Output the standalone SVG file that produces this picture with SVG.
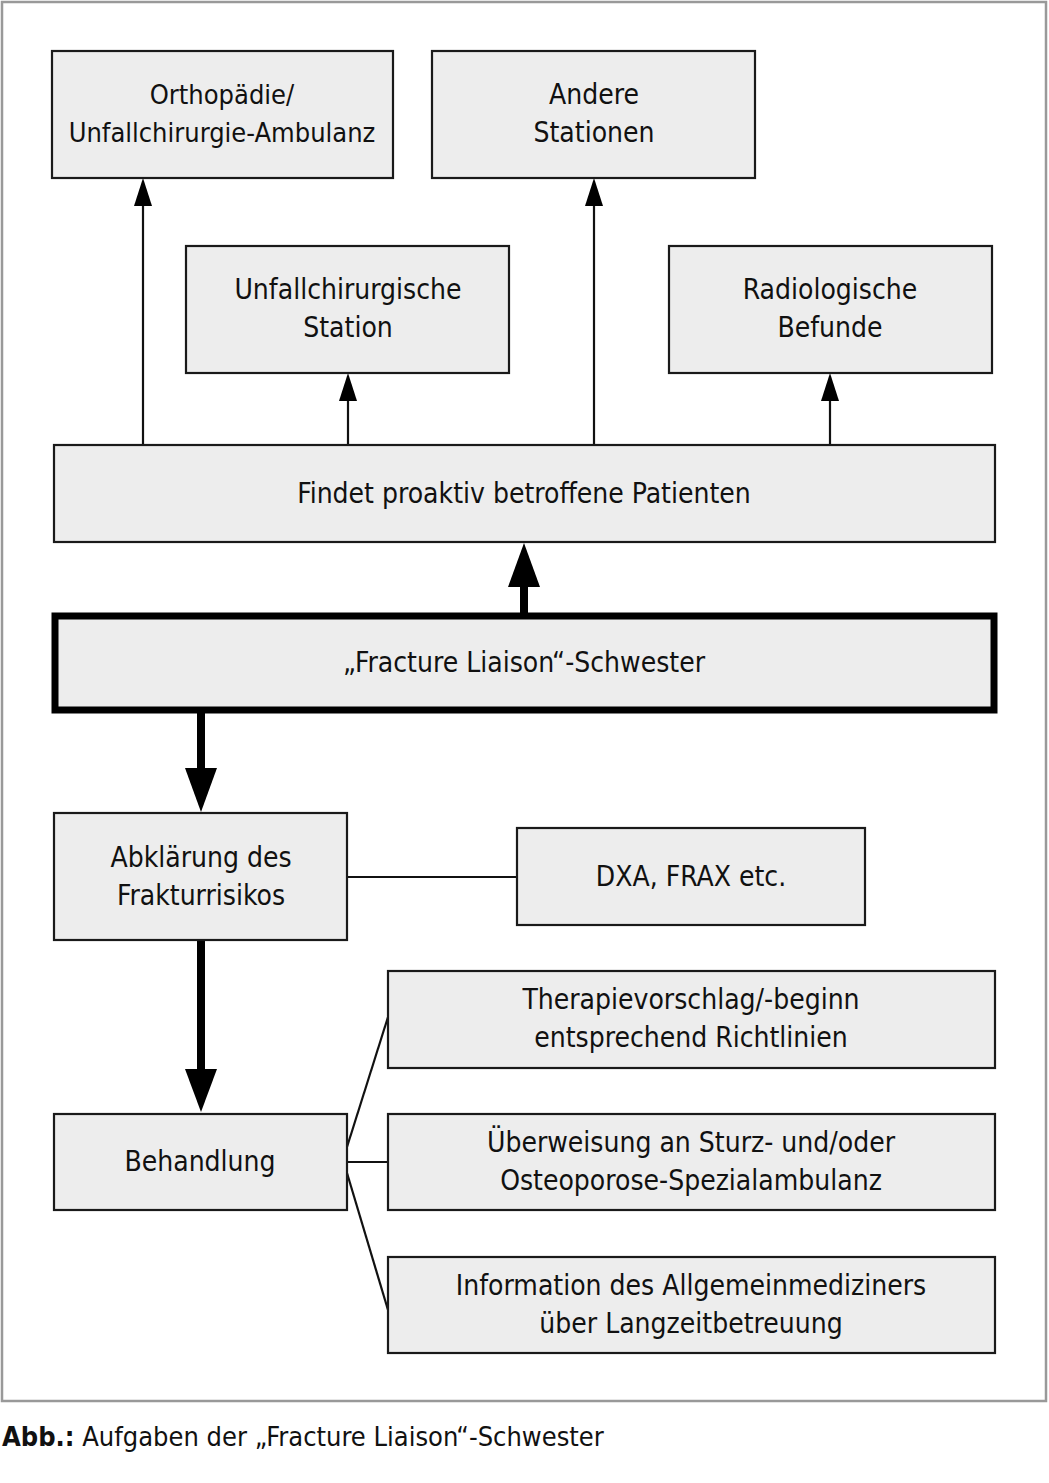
<svg xmlns="http://www.w3.org/2000/svg" width="1049" height="1483" viewBox="0 0 1049 1483">
<style>
.box{fill:#ededed;stroke:#1a1a1a;stroke-width:2.2}
.thick{fill:#ededed;stroke:#000;stroke-width:7}
.t{font-family:"DejaVu Sans Condensed","Liberation Sans Narrow",sans-serif;font-size:28px;fill:#111;text-anchor:middle}
.t27{font-size:27px}
.ln{stroke:#111;stroke-width:2.2;fill:none}
.tk{stroke:#000;stroke-width:8;fill:none}
.ah{fill:#000}
.cap{font-family:"DejaVu Sans Condensed","Liberation Sans Narrow",sans-serif;font-size:27px;fill:#111}
</style>
<rect width="1049" height="1483" fill="#fff"/>
<rect x="2" y="2" width="1044" height="1399" fill="none" stroke="#999" stroke-width="2.5"/>
<g id="connectors">
<line class="ln" x1="143" y1="445" x2="143" y2="200"/>
<polygon class="ah" points="143,178 134,206 152,206"/>
<line class="ln" x1="348" y1="445" x2="348" y2="395"/>
<polygon class="ah" points="348,373 339,401 357,401"/>
<line class="ln" x1="594" y1="445" x2="594" y2="200"/>
<polygon class="ah" points="594,178 585,206 603,206"/>
<line class="ln" x1="830" y1="445" x2="830" y2="395"/>
<polygon class="ah" points="830,373 821,401 839,401"/>
<line class="tk" x1="524" y1="613" x2="524" y2="580"/>
<polygon class="ah" points="524,543 508,587 540,587"/>
<line class="tk" x1="201" y1="713" x2="201" y2="775"/>
<polygon class="ah" points="201,812 185,768 217,768"/>
<line class="tk" x1="201" y1="940" x2="201" y2="1075"/>
<polygon class="ah" points="201,1112 185,1069 217,1069"/>
<line class="ln" x1="347" y1="877" x2="517" y2="877"/>
<line class="ln" x1="347" y1="1147" x2="388" y2="1017"/>
<line class="ln" x1="347" y1="1162" x2="388" y2="1162"/>
<line class="ln" x1="347" y1="1173" x2="388" y2="1310"/>
</g>
<g id="n1"><rect class="box" x="52" y="51" width="341" height="127"/><text class="t t27" x="222" y="104">Orthopädie/</text><text class="t t27" x="222" y="142">Unfallchirurgie-Ambulanz</text></g>
<g id="n2"><rect class="box" x="432" y="51" width="323" height="127"/><text class="t" x="594" y="104">Andere</text><text class="t" x="594" y="142">Stationen</text></g>
<g id="n3"><rect class="box" x="186" y="246" width="323" height="127"/><text class="t" x="348" y="299">Unfallchirurgische</text><text class="t" x="348" y="337">Station</text></g>
<g id="n4"><rect class="box" x="669" y="246" width="323" height="127"/><text class="t" x="830" y="299">Radiologische</text><text class="t" x="830" y="337">Befunde</text></g>
<g id="n5"><rect class="box" x="54" y="445" width="941" height="97"/><text class="t" x="524" y="503">Findet proaktiv betroffene Patienten</text></g>
<g id="n6"><rect class="thick" x="55" y="616" width="939" height="94"/><text class="t" x="524" y="672">„Fracture Liaison“-Schwester</text></g>
<g id="n7"><rect class="box" x="54" y="813" width="293" height="127"/><text class="t" x="201" y="867">Abklärung des</text><text class="t" x="201" y="905">Frakturrisikos</text></g>
<g id="n8"><rect class="box" x="517" y="828" width="348" height="97"/><text class="t" x="691" y="886">DXA, FRAX etc.</text></g>
<g id="n9"><rect class="box" x="388" y="971" width="607" height="97"/><text class="t" x="691" y="1009">Therapievorschlag/-beginn</text><text class="t" x="691" y="1047">entsprechend Richtlinien</text></g>
<g id="n10"><rect class="box" x="54" y="1114" width="293" height="96"/><text class="t" x="200" y="1171">Behandlung</text></g>
<g id="n11"><rect class="box" x="388" y="1114" width="607" height="96"/><text class="t" x="691" y="1152">Überweisung an Sturz- und/oder</text><text class="t" x="691" y="1190">Osteoporose-Spezialambulanz</text></g>
<g id="n12"><rect class="box" x="388" y="1257" width="607" height="96"/><text class="t" x="691" y="1295">Information des Allgemeinmediziners</text><text class="t" x="691" y="1333">über Langzeitbetreuung</text></g>
<text class="cap" x="2" y="1446"><tspan font-weight="bold">Abb.:</tspan> Aufgaben der „Fracture Liaison“-Schwester</text>
</svg>
